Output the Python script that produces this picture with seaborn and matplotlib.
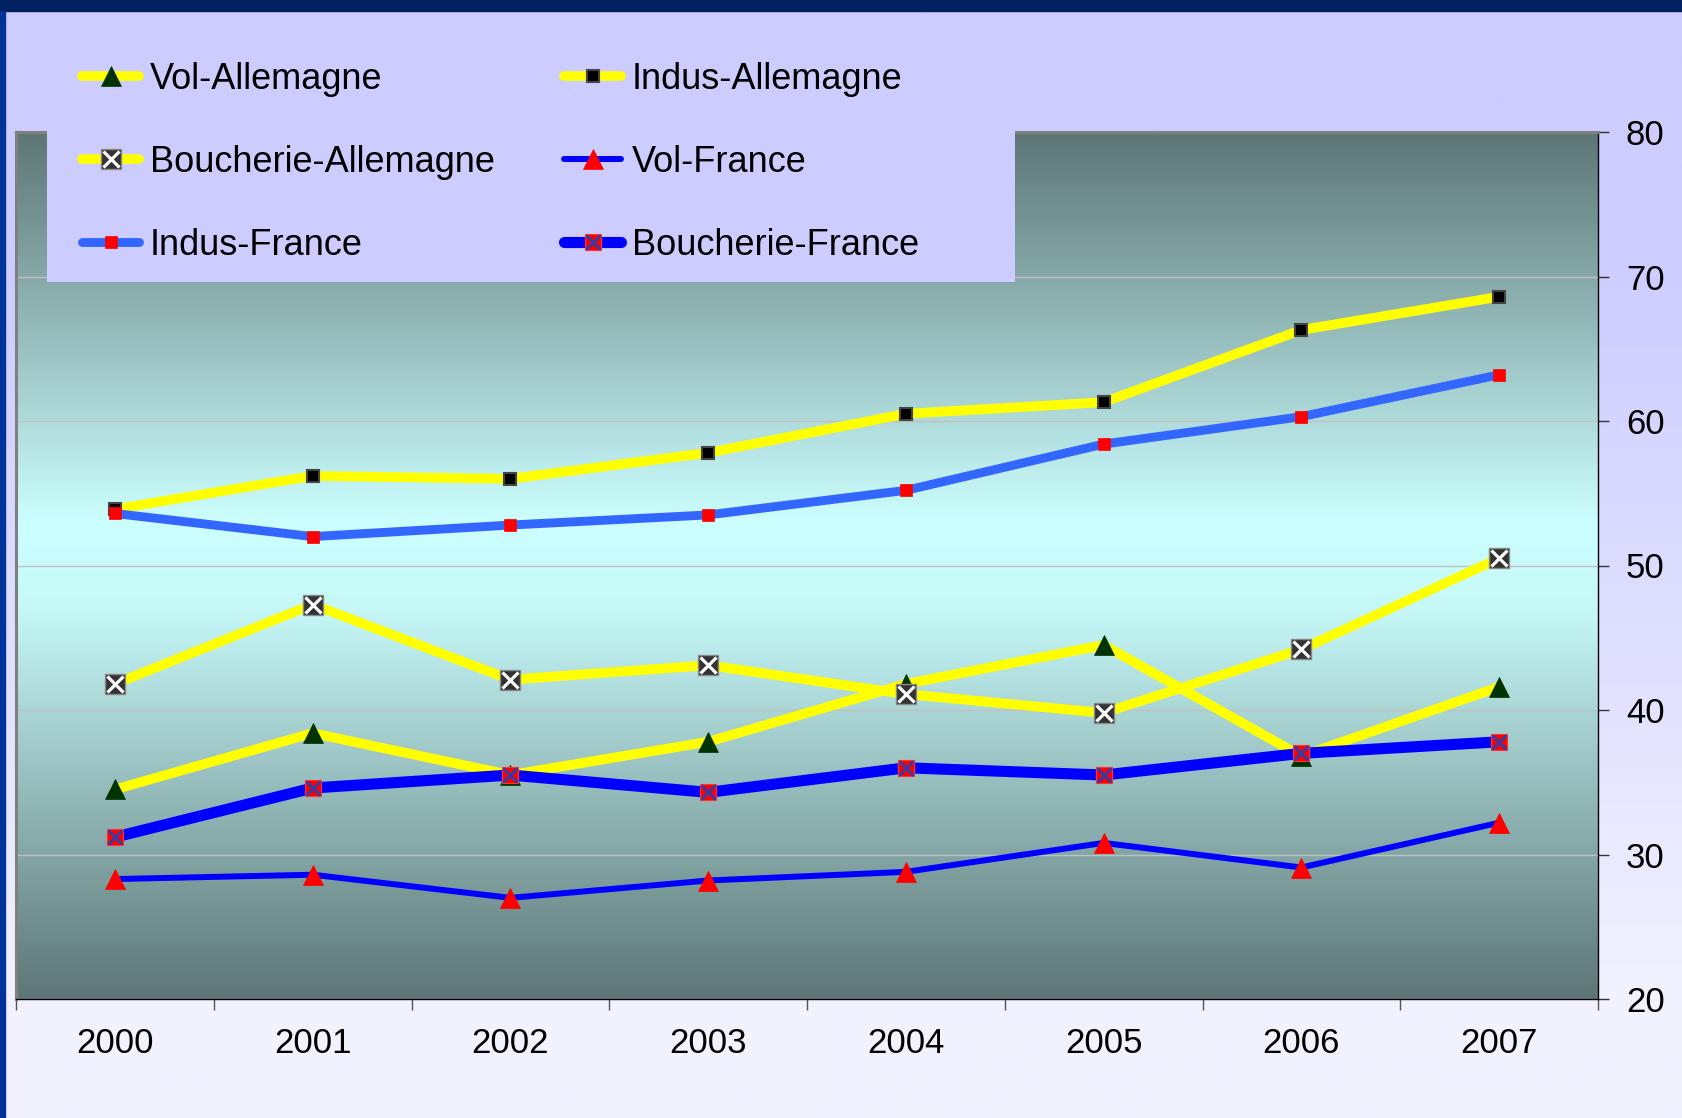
import numpy as np
import pandas as pd
import matplotlib
matplotlib.use("Agg")
import matplotlib.pyplot as plt
import seaborn as sns
from matplotlib.lines import Line2D
from matplotlib.patches import Rectangle
from matplotlib.colors import LinearSegmentedColormap

# --- DATA ---
years = [2000, 2001, 2002, 2003, 2004, 2005, 2006, 2007]
vol_allemagne = [34.5, 38.4, 35.5, 37.8, 41.8, 44.5, 36.8, 41.6]
indus_allemagne = [53.9, 56.2, 56.0, 57.8, 60.5, 61.3, 66.3, 68.6]
boucherie_allemagne = [41.8, 47.3, 42.1, 43.1, 41.1, 39.8, 44.2, 50.5]
vol_france = [28.3, 28.6, 27.0, 28.2, 28.8, 30.8, 29.1, 32.2]
indus_france = [53.6, 52.0, 52.8, 53.5, 55.2, 58.4, 60.3, 63.2]
boucherie_france = [31.2, 34.6, 35.5, 34.3, 36.0, 35.5, 37.0, 37.8]
series_names = ["Vol-Allemagne", "Indus-Allemagne", "Boucherie-Allemagne",
                "Vol-France", "Indus-France", "Boucherie-France"]
series_values = [vol_allemagne, indus_allemagne, boucherie_allemagne,
                 vol_france, indus_france, boucherie_france]
y_ticks = [20, 30, 40, 50, 60, 70, 80]

df = pd.DataFrame({
    "year": np.tile(years, len(series_names)),
    "series": np.repeat(series_names, len(years)),
    "value": np.concatenate(series_values),
})

# --- STYLE ---
sns.set_theme(style="white")
plt.rcParams['font.family'] = ['Liberation Sans', 'DejaVu Sans']
plt.rcParams['text.color'] = 'black'

styles = {
    "Vol-Allemagne": dict(color="#FFFF00", lw=7.0, marker="^", ms=14, mfc="#003300", mec="#003300", mew=0.5),
    "Indus-Allemagne": dict(color="#FFFF00", lw=7.0, marker="s", ms=9, mfc="#000000", mec="#444444", mew=1.5),
    "Boucherie-Allemagne": dict(color="#FFFF00", lw=7.0, marker="s", ms=14, mfc="#333333", mec="#888888", mew=1.0,
                                over=dict(marker="x", ms=12, color="white", mew=2.3)),
    "Vol-France": dict(color="#0000FF", lw=4.3, marker="^", ms=14, mfc="#FF0000", mec="#FF0000", mew=0.5),
    "Indus-France": dict(color="#3366FF", lw=6.4, marker="s", ms=9, mfc="#FF0000", mec="#FF0000", mew=0.5),
    "Boucherie-France": dict(color="#0000FF", lw=8.0, marker="s", ms=11.5, mfc="#FF0000", mec="#FF3333", mew=0.8,
                             over=dict(marker="x", ms=10.5, color="#3A3AA0", mew=2.2)),
}

W, H = 1683, 1118
fig = plt.figure(figsize=(W / 100, H / 100), dpi=100)

# figure background gradient (lavender -> pale)
bg = fig.add_axes([0, 0, 1, 1], zorder=-2)
yy = np.linspace(0, 1, 400)[:, None]  # 0 = top
t = np.clip((yy - 0.22) / (0.90 - 0.22), 0, 1)
top_c = np.array([204, 204, 255]) / 255
bot_c = np.array([242, 242, 255]) / 255
grad = top_c + (bot_c - top_c) * t[..., None]
bg.imshow(grad, aspect="auto", extent=(0, 1, 0, 1), origin="upper")
bg.set_axis_off()

fig.add_artist(Rectangle((0, 1 - 11 / H), 1, 11 / H, transform=fig.transFigure,
                         color="#002060", zorder=-1))
fig.add_artist(Rectangle((0, 0), 5 / W, 1 - 11 / H, transform=fig.transFigure,
                         color="#003399", zorder=-1))

# main axes
left, right, top, bottom = 16, 1598, 132, 999
ax = fig.add_axes([left / W, 1 - bottom / H, (right - left) / W, (bottom - top) / H], zorder=0)
ax.patch.set_alpha(0)

plot_cmap = LinearSegmentedColormap.from_list(
    "plot_bg", [(0, "#5E7676"), (0.45, "#C6F8F8"), (0.55, "#CCFFFF"), (1, "#5E7676")])
ax.imshow(np.linspace(0, 1, 300)[:, None], cmap=plot_cmap, aspect="auto",
          extent=(years[0] - 0.5, years[-1] + 0.5, y_ticks[0], y_ticks[-1]),
          origin="lower", zorder=0)

for name in series_names:
    st = styles[name]
    sub = df[df["series"] == name]
    sns.lineplot(data=sub, x="year", y="value", ax=ax, color=st["color"], linewidth=st["lw"],
                 marker=st["marker"], markersize=st["ms"], markerfacecolor=st["mfc"],
                 markeredgecolor=st["mec"], markeredgewidth=st["mew"],
                 solid_capstyle="round", solid_joinstyle="round",
                 legend=False, errorbar=None, sort=False, zorder=3)
    if "over" in st:
        ov = st["over"]
        ax.plot(sub["year"], sub["value"], linestyle="none", marker=ov["marker"],
                markersize=ov["ms"], color=ov["color"], markeredgewidth=ov["mew"], zorder=3)

ax.set_xlim(years[0] - 0.5, years[-1] + 0.5)
ax.set_ylim(y_ticks[0], y_ticks[-1])
ax.set_xlabel("")
ax.set_ylabel("")

# y axis on the right
ax.yaxis.tick_right()
ax.set_yticks(y_ticks)
ax.set_yticklabels([str(v) for v in y_ticks])
ax.tick_params(axis="y", which="major", direction="out", length=8, width=1,
               color="#333333", labelsize=25, pad=12, labelcolor="black", right=True, left=False)
ax.grid(axis="y", color="#C0C0C0", linewidth=1.0)
ax.grid(axis="x", visible=False)
for gl in ax.get_ygridlines():
    gl.set_zorder(1)

# x axis: ticks at category boundaries, labels at centres
boundaries = [y - 0.5 for y in years] + [years[-1] + 0.5]
ax.set_xticks(boundaries)
ax.set_xticklabels([""] * len(boundaries))
ax.set_xticks(years, minor=True)
ax.set_xticklabels([str(y) for y in years], minor=True)
ax.tick_params(axis="x", which="major", direction="out", length=8, width=1,
               color="#555555", bottom=True)
ax.tick_params(axis="x", which="minor", length=0, labelsize=25, pad=20, labelcolor="black")

for side in ["top", "left"]:
    ax.spines[side].set_color("#808080")
    ax.spines[side].set_linewidth(2.2)
for side in ["right", "bottom"]:
    ax.spines[side].set_color("#000000")
    ax.spines[side].set_linewidth(1.0)

# legend
def make_handle(name):
    st = styles[name]
    h = Line2D([], [], color=st["color"], lw=st["lw"], marker=st["marker"], markersize=st["ms"],
               markerfacecolor=st["mfc"], markeredgecolor=st["mec"], markeredgewidth=st["mew"],
               solid_capstyle="round")
    if "over" in st:
        ov = st["over"]
        h2 = Line2D([], [], linestyle="none", marker=ov["marker"], markersize=ov["ms"],
                    color=ov["color"], markeredgewidth=ov["mew"])
        return (h, h2)
    return h

order = ["Vol-Allemagne", "Boucherie-Allemagne", "Indus-France",
         "Indus-Allemagne", "Vol-France", "Boucherie-France"]
fig.add_artist(Rectangle((47 / W, 1 - 282 / H), 968 / W, 247 / H, transform=fig.transFigure,
                         facecolor="#CCCCFF", edgecolor="none", zorder=1))
fig.legend([make_handle(n) for n in order], order, loc="upper left",
           bbox_to_anchor=(82 / W, 1 - 62 / H), bbox_transform=fig.transFigure,
           ncol=2, frameon=False, fontsize=26, borderpad=0, borderaxespad=0,
           handlelength=1.58, handletextpad=0.29, labelspacing=1.33, columnspacing=1.93,
           labelcolor="black")

fig.savefig("out.png", dpi=100)
